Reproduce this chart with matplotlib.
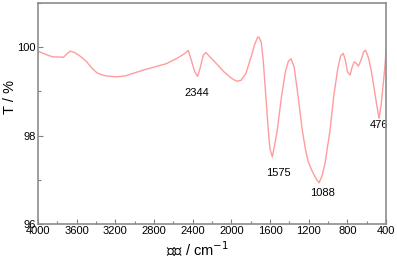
import matplotlib
matplotlib.use("Agg")
import matplotlib.pyplot as plt
from matplotlib.ticker import MultipleLocator

plt.rcParams['font.family'] = ['Liberation Sans', 'Noto Sans CJK SC', 'DejaVu Sans']

wavenumber = [4000, 3900, 3845, 3780, 3738, 3700, 3669, 3620, 3566, 3500, 3440, 3390,
              3359, 3300, 3186, 3100, 3000, 2914, 2800, 2669, 2560, 2480, 2445, 2420,
              2380, 2348, 2320, 2290, 2262, 2230, 2150, 2080, 2000, 1945, 1900, 1850,
              1800, 1760, 1730, 1714, 1690, 1670, 1650, 1630, 1618, 1600, 1576, 1555,
              1525, 1480, 1440, 1410, 1383, 1350, 1310, 1266, 1230, 1204, 1169, 1130,
              1093, 1060, 1031, 979, 940, 900, 870, 842, 820, 800, 772, 750, 728, 705,
              686, 660, 630, 610, 580, 555, 531, 500, 472, 450, 428, 410, 400]
transmittance = [99.91, 99.82, 99.78, 99.78, 99.77, 99.85, 99.91, 99.88, 99.80, 99.68, 99.52, 99.42,
                 99.39, 99.35, 99.33, 99.35, 99.42, 99.48, 99.55, 99.63, 99.75, 99.86, 99.93, 99.75,
                 99.45, 99.34, 99.55, 99.82, 99.88, 99.80, 99.62, 99.45, 99.30, 99.23, 99.25, 99.40,
                 99.75, 100.05, 100.22, 100.23, 100.10, 99.70, 99.10, 98.50, 98.12, 97.70, 97.52, 97.75,
                 98.12, 98.90, 99.45, 99.68, 99.74, 99.55, 98.90, 98.12, 97.65, 97.41, 97.22, 97.05,
                 96.93, 97.10, 97.37, 98.12, 98.90, 99.50, 99.80, 99.86, 99.70, 99.45, 99.37, 99.55, 99.67, 99.63,
                 99.57, 99.70, 99.90, 99.93, 99.75, 99.50, 99.18, 98.75, 98.39, 98.70, 99.18, 99.60, 99.90]

peak_labels = ["2344", "1575", "1088", "476"]
label_x = [2355, 1514, 1057, 565]
label_y = [98.96, 97.15, 96.71, 98.24]
label_ha = ["center", "center", "center", "left"]

fig = plt.figure(figsize=(3.97, 2.59), dpi=100)
ax = fig.add_axes([38/397, 1-224/259, 348/397, 221/259])
ax.plot(wavenumber, transmittance, color='#ff9c9c', lw=1.0)
ax.set_xlim(4000, 400)
ax.set_ylim(96, 101.0)
ax.xaxis.set_major_locator(MultipleLocator(400))
ax.xaxis.set_minor_locator(MultipleLocator(200))
ax.yaxis.set_major_locator(MultipleLocator(2))
ax.yaxis.set_minor_locator(MultipleLocator(1))
ax.tick_params(which='both', direction='in', color='#808080', labelsize=8, pad=1.5)
ax.tick_params(which='major', length=3.5, width=0.8)
ax.tick_params(which='minor', length=2, width=0.8)
for s in ax.spines.values():
    s.set_color('#8c8c8c')
    s.set_linewidth(1.2)

for t, x, y, ha in zip(peak_labels, label_x, label_y, label_ha):
    ax.text(x, y, t, ha=ha, va='center', fontsize=8, zorder=1)

ax.set_xlabel('波数 / cm$^{-1}$', fontsize=10.5)
ax.set_ylabel('T / %', fontsize=10.5)
ax.xaxis.set_label_coords(0.458, -0.07)
ax.yaxis.set_label_coords(-0.06, 0.575)

fig.savefig('out.png', dpi=100)
